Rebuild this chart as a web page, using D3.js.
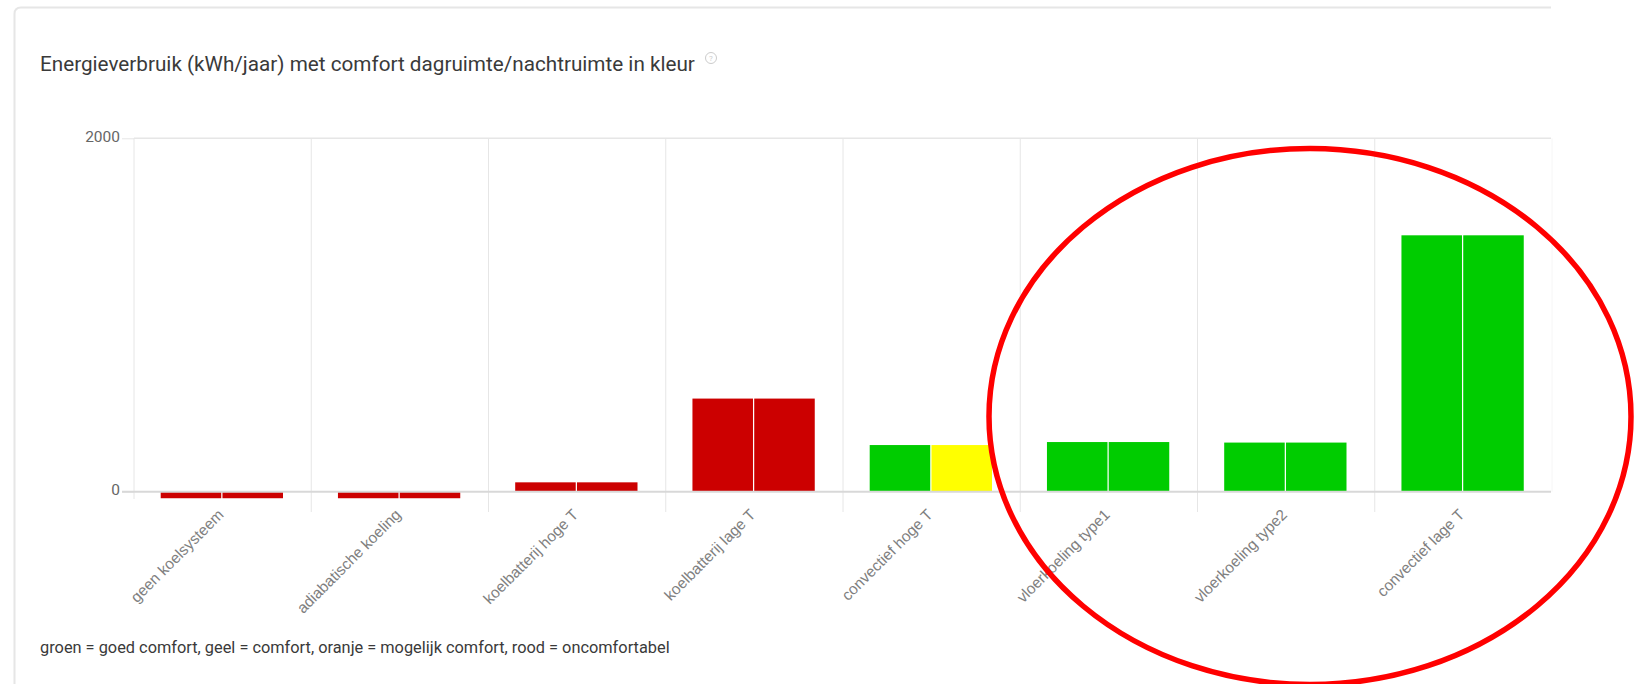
<!DOCTYPE html>
<html><head><meta charset="utf-8">
<script src="https://cdnjs.cloudflare.com/ajax/libs/d3/7.8.5/d3.min.js"></script>
<style>html,body{margin:0;background:#fff}svg{display:block}</style></head>
<body><svg id="c" width="1640" height="684"></svg>
<script>
const categories=["geen koelsysteem","adiabatische koeling","koelbatterij hoge T","koelbatterij lage T","convectief hoge T","vloerkoeling type1","vloerkoeling type2","convectief lage T"];
const seriesNames=["dagruimte","nachtruimte"];
const dagruimte=[-37,-37,53,527,264,281,278,1451];
const nachtruimte=[-37,-37,53,527,264,281,278,1451];
const comfortDag=["rood","rood","rood","rood","groen","groen","groen","groen"];
const comfortNacht=["rood","rood","rood","rood","geel","groen","groen","groen"];
const yTicks=[0,2000];
const titleText="Energieverbruik (kWh/jaar) met comfort dagruimte/nachtruimte in kleur";
const noteText="groen = goed comfort, geel = comfort, oranje = mogelijk comfort, rood = oncomfortabel";
const colours={groen:"#00cc00",geel:"#ffff00",oranje:"#ff9900",rood:"#cc0000"};

const svg=d3.select("#c");
const W=1551,L=134,Y0=491.7,Y1=138.3;
const x0=d3.scaleBand().domain(categories).range([L,L+8*177.25]);
const x1=d3.scaleBand().domain(seriesNames).range([26.7,149]).paddingInner(0.02);
const y=d3.scaleLinear().domain([0,2000]).range([Y0,Y1]);

// card
svg.append("path").attr("d",`M14.5 684V14Q14.5 7.5 21 7.5H${W}`).attr("fill","none").attr("stroke","#e6e6e6").attr("stroke-width",2);

svg.append("text").attr("x",40).attr("y",71).attr("font-family","Roboto").attr("font-size",20.7).attr("fill","#3a3a3a").text(titleText);
const help=svg.append("g").attr("transform","translate(711,58)");
help.append("circle").attr("r",5.5).attr("fill","none").attr("stroke","#ccc");
help.append("text").attr("y",3).attr("text-anchor","middle").attr("font-family","Roboto").attr("font-size",8).attr("fill","#ccc").text("?");

// vertical grid
const gridX=d3.range(categories.length+1).map(i=>i<categories.length?x0(categories[i]):x0.range()[1]);
svg.append("g").selectAll("line").data(gridX).join("line")
 .attr("x1",d=>d).attr("x2",d=>d).attr("y1",Y1).attr("y2",(d,i)=>i===0?499:i===8?Y0:512)
 .attr("stroke",(d,i)=>i===8?"#f6f6f6":"#e6e6e6").attr("stroke-width",1);

// y axis
const yAxis=svg.append("g").attr("transform",`translate(${L},0)`).call(d3.axisLeft(y).tickValues(yTicks).tickSize(12).tickPadding(2).tickFormat(d3.format("d")));
yAxis.select(".domain").remove();
yAxis.selectAll("line").attr("stroke","#e6e6e6");
yAxis.selectAll("text").attr("font-family","Roboto").attr("font-size",15.5).attr("fill","#666").attr("dy","0.2em");
svg.append("line").attr("x1",L).attr("x2",W).attr("y1",y(2000)).attr("y2",y(2000)).attr("stroke","#e6e6e6").attr("stroke-width",1.5);

// bars
const rows=categories.map((c,i)=>({c,vals:[{s:seriesNames[0],v:dagruimte[i],k:comfortDag[i]},{s:seriesNames[1],v:nachtruimte[i],k:comfortNacht[i]}]}));
svg.append("g").selectAll("g").data(rows).join("g").attr("transform",d=>`translate(${x0(d.c)},0)`)
 .selectAll("rect").data(d=>d.vals).join("rect")
 .attr("x",d=>x1(d.s)).attr("width",x1.bandwidth())
 .attr("y",d=>Math.min(y(d.v),y(0))).attr("height",d=>Math.abs(y(d.v)-y(0)))
 .attr("fill",d=>colours[d.k]);

// baseline
svg.append("line").attr("x1",L-12).attr("x2",W).attr("y1",Y0).attr("y2",Y0).attr("stroke","#d8d8d8").attr("stroke-width",2);

// x labels
const xAxis=svg.append("g").attr("transform",`translate(0,${Y0})`).call(d3.axisBottom(x0).tickSize(0));
xAxis.select(".domain").remove();
xAxis.selectAll("text").attr("font-family","Liberation Sans").attr("font-size",15.4).attr("fill","#808080")
 .attr("text-anchor","end").attr("dy",0).attr("y",0)
 .attr("transform","translate(2,24) rotate(-45)");

svg.append("text").attr("x",40).attr("y",653).attr("font-family","Roboto").attr("font-size",16.35).attr("fill","#3a3a3a").text(noteText);

// annotation ellipse
svg.append("ellipse").attr("cx",1310).attr("cy",416.5).attr("rx",321).attr("ry",268).attr("fill","none").attr("stroke","#ff0000").attr("stroke-width",5.5);
</script></body></html>
